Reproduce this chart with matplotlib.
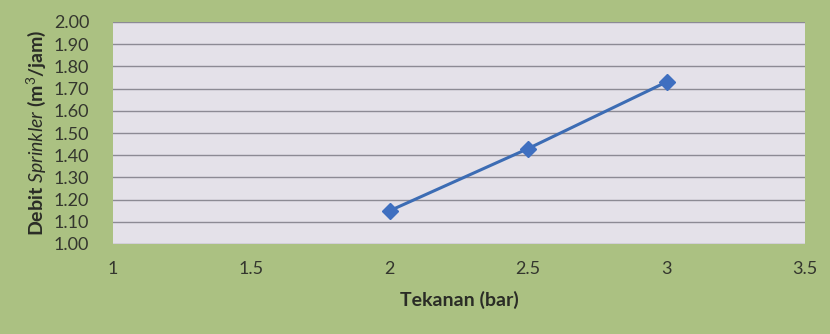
import matplotlib.pyplot as plt
import numpy as np

plt.rcParams['font.family'] = ['Lato', 'DejaVu Sans']
plt.rcParams['mathtext.fontset'] = 'custom'
plt.rcParams['mathtext.rm'] = 'Lato'
plt.rcParams['mathtext.it'] = 'Lato:italic'
plt.rcParams['mathtext.bf'] = 'Lato:bold'

# data
tekanan = [2, 2.5, 3]
debit = [1.15, 1.43, 1.73]

x_ticks = [1, 1.5, 2, 2.5, 3, 3.5]
x_labels = ["1", "1.5", "2", "2.5", "3", "3.5"]
y_ticks = np.round(np.arange(1.0, 2.01, 0.1), 2)

bg = "#abc182"
plot_bg = "#e4e1e9"

fig = plt.figure(figsize=(8.3, 3.34), dpi=100, facecolor=bg)
ax = fig.add_axes([113 / 830, 1 - 244 / 334, (805 - 113) / 830, (244 - 22) / 334])
ax.set_facecolor(plot_bg)

ax.plot(tekanan, debit, color="#3c6cb4", linewidth=2.2, marker="D",
        markersize=8, markerfacecolor="#3f6fc0", markeredgecolor="#3f6fc0", zorder=3)

ax.set_xlim(1, 3.5)
ax.set_ylim(1.0, 2.0)
ax.set_xticks(x_ticks)
ax.set_xticklabels(x_labels)
ax.set_yticks(y_ticks)
ax.set_yticklabels([f"{v:.2f}" for v in y_ticks])
ax.grid(axis="y", color="#8c8a94", linewidth=1.0)
ax.set_axisbelow(True)
for s in ax.spines.values():
    s.set_visible(False)
ax.tick_params(axis="both", length=0, labelsize=13, colors="#34362e")
ax.tick_params(axis="y", pad=17)
ax.tick_params(axis="x", pad=12)

ax.set_xlabel("Tekanan (bar)", fontsize=14, fontweight="bold", color="#2a2c26", labelpad=10)
ax.set_ylabel(r"Debit $\mathit{Sprinkler}$ (m$^{3}$/jam)", fontsize=14,
              fontweight="bold", color="#2a2c26", labelpad=4)

fig.savefig("out.png", dpi=100, facecolor=bg)
